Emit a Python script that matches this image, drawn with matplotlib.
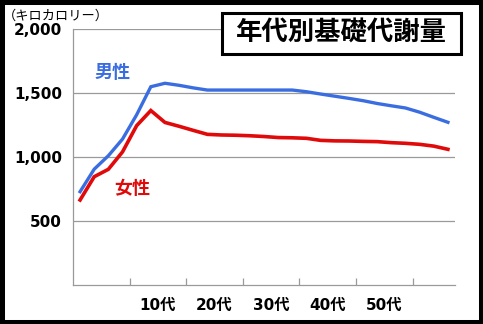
import numpy as np
import matplotlib
matplotlib.use("Agg")
import matplotlib.pyplot as plt
from matplotlib.patches import Rectangle

plt.rcParams['font.family'] = ['DejaVu Sans', 'Noto Sans CJK JP']

# one value per age step (27 categories, Excel-style line chart)
male_kcal = [729, 905, 1010, 1140, 1330, 1549, 1576, 1560, 1540, 1523,
             1523, 1523, 1523, 1523, 1523, 1523, 1510, 1492, 1475, 1458,
             1440, 1418, 1400, 1383, 1350, 1310, 1271]
female_kcal = [664, 846, 904, 1040, 1245, 1363, 1270, 1240, 1208, 1177,
               1172, 1170, 1166, 1160, 1152, 1150, 1146, 1130, 1126, 1125,
               1122, 1120, 1112, 1107, 1099, 1085, 1060]
decade_labels = ['10代', '20代', '30代', '40代', '50代']
y_ticks = [500, 1000, 1500, 2000]
y_tick_labels = ['500', '1,000', '1,500', '2,000']

title = '年代別基礎代謝量'
unit_label = '（キロカロリー）'
male_label = '男性'
female_label = '女性'

blue = '#3a6ee0'
red = '#e00a0a'
grid_gray = '#9a9a9a'

fig = plt.figure(figsize=(4.83, 3.24), dpi=100)
ax = fig.add_axes([73 / 483, 39 / 324, 382 / 483, 256 / 324])

x = np.arange(len(male_kcal))
ax.plot(x, male_kcal, color=blue, lw=2.4, solid_joinstyle='miter', zorder=3)
ax.plot(x, female_kcal, color=red, lw=2.6, solid_joinstyle='miter', zorder=3)

ax.set_xlim(-0.5, len(male_kcal) - 0.5)
ax.set_ylim(0, 2000)

# y axis
ax.set_yticks(y_ticks)
ax.set_yticklabels(y_tick_labels, fontsize=11, fontweight='bold', family='DejaVu Sans')
ax.tick_params(axis='y', length=0, pad=8)
ax.yaxis.grid(True, color=grid_gray, lw=0.9)
ax.set_axisbelow(True)

# x axis: ticks every 4 categories, labels between them
tick_pos = [3.5, 7.5, 11.5, 15.5, 19.5, 23.5]
ax.set_xticks(tick_pos)
ax.set_xticklabels([])
ax.tick_params(axis='x', direction='in', length=5, color=grid_gray, width=0.9)
label_pos = [5.5, 9.5, 13.5, 17.5, 21.5]
ax.set_xticks(label_pos, minor=True)
ax.set_xticklabels(decade_labels, minor=True, fontsize=11, fontweight='bold')
ax.tick_params(axis='x', which='minor', length=0, pad=9)

for s in ['top', 'right']:
    ax.spines[s].set_visible(False)
for s in ['left', 'bottom']:
    ax.spines[s].set_color(grid_gray)
    ax.spines[s].set_linewidth(0.9)

# series labels
ax.text(2.3, 1660, male_label, color=blue, fontsize=13, fontweight='bold',
        family='Noto Sans CJK JP', ha='center', va='center')
ax.text(3.7, 755, female_label, color=red, fontsize=13, fontweight='bold',
        family='Noto Sans CJK JP', ha='center', va='center')

# unit label
fig.text(56 / 483, 1 - 16 / 324, unit_label, fontsize=9.5,
         family='Noto Sans CJK JP', ha='center', va='center')

# title box
fig.add_artist(Rectangle((222 / 483, 1 - 54 / 324), 239 / 483, 41 / 324,
                         transform=fig.transFigure, fc='white', ec='black',
                         lw=2.2, zorder=5))
fig.text(341 / 483, 1 - 33 / 324, title, fontsize=19, fontweight='bold',
         family='Noto Sans CJK JP', ha='center', va='center', zorder=6)

# outer frame
fig.add_artist(Rectangle((0, 0), 1, 1, transform=fig.transFigure,
                         fill=False, ec='black', lw=6.5, zorder=10))

fig.savefig('out.png', dpi=100)
